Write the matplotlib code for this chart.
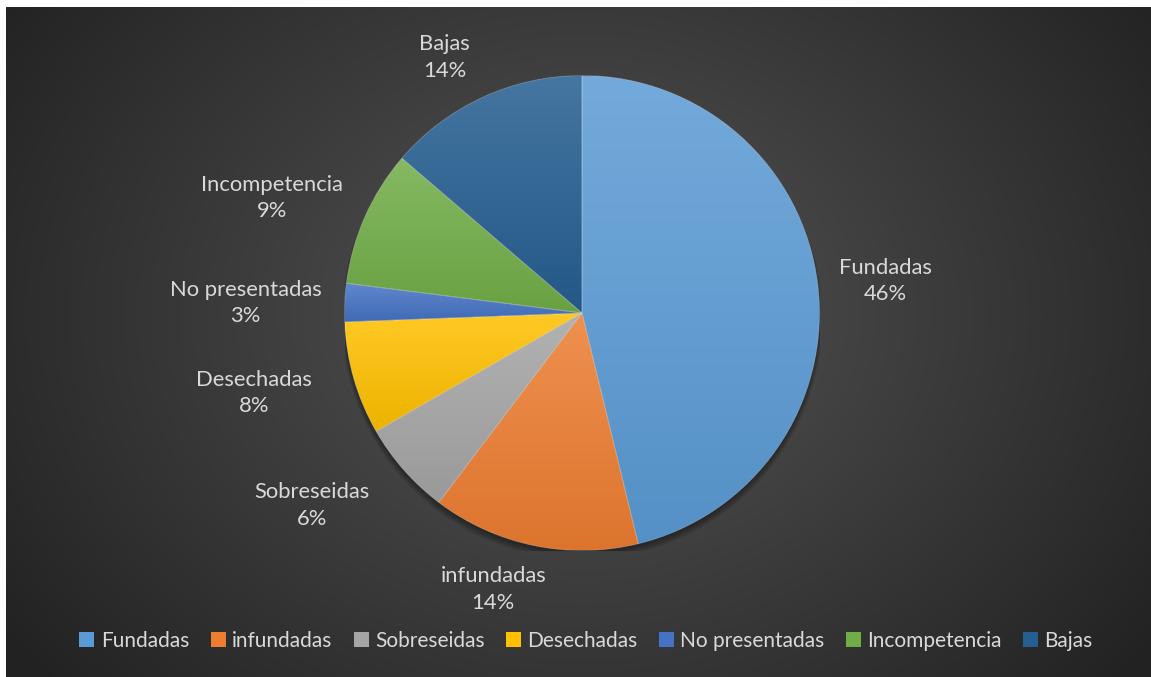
import numpy as np
import matplotlib
matplotlib.use("Agg")
import matplotlib.pyplot as plt
from matplotlib.colors import to_rgb
from matplotlib.patches import Patch, Circle

# ---- data ----
categories = ["Fundadas", "infundadas", "Sobreseidas", "Desechadas",
              "No presentadas", "Incompetencia", "Bajas"]
values = [46.2, 14.1, 6.4, 7.7, 2.6, 9.3, 13.7]
pct_labels = ["46%", "14%", "6%", "8%", "3%", "9%", "14%"]
colors = ["#5B9BD5", "#ED7D31", "#A5A5A5", "#FFC000",
          "#4472C4", "#70AD47", "#255E91"]

# label placement (style): radius factor and angular shift (deg, clockwise)
label_radius = [1.284, 1.223, 1.398, 1.422, 1.417, 1.393, 1.222]
label_shift = [0.8, 6.1, 5.9, 2.3, -0.8, -3.6, -3.6]

plt.rcParams['font.family'] = ['Lato', 'DejaVu Sans']
TEXT = "#D9D9D9"

W, H = 1151, 677
fig = plt.figure(figsize=(W / 100, H / 100), dpi=100, facecolor="white")

# background radial gradient
bg = fig.add_axes([6 / W, 0, (W - 6) / W, (H - 7) / H])
bg.set_axis_off()
ny, nx = 335, 572
yy, xx = np.mgrid[0:ny, 0:nx]
cx, cy = (582 - 6) / (W - 6) * nx, (313 - 7) / (H - 7) * ny
d = np.sqrt(((xx - cx) / (nx * 0.62)) ** 2 + ((yy - cy) / (ny * 0.85)) ** 2)
d = np.clip(d, 0, 1)
inner = np.array(to_rgb("#555555"))
outer = np.array(to_rgb("#222222"))
img = inner[None, None, :] * (1 - d[..., None]) + outer[None, None, :] * d[..., None]
bg.imshow(img, aspect="auto", extent=[0, 1, 0, 1], origin="upper")
bg.set_xlim(0, 1)
bg.set_ylim(0, 1)

# pie axes
R = 237.5
ax = fig.add_axes([(582 - R) / W, (H - 313 - R) / H, 2 * R / W, 2 * R / H])
ax.set_axis_off()
ax.set_xlim(-1, 1)
ax.set_ylim(-1, 1)

# soft shadow
for i, a in enumerate([0.10, 0.10, 0.10, 0.10]):
    ax.add_patch(Circle((0, -0.012 - 0.004 * i), 1.0 + 0.004 * i,
                        color="black", alpha=a, zorder=0.5, lw=0))

wedges, _ = ax.pie(values, colors=colors, startangle=90, counterclock=False,
                   radius=1.0, wedgeprops=dict(linewidth=0.6, edgecolor=(1, 1, 1, 0.25)))

def lighten(c, f):
    c = np.array(to_rgb(c))
    return c + (1 - c) * f

def darken(c, f):
    c = np.array(to_rgb(c))
    return c * (1 - f)

for w, c in zip(wedges, colors):
    ext = w.get_path().get_extents()
    top = lighten(c, 0.15)
    bot = darken(c, 0.07)
    t = np.linspace(0, 1, 256)[:, None, None]
    grad = top[None, None, :] * (1 - t) + bot[None, None, :] * t
    grad = np.repeat(grad, 2, axis=1)
    im = ax.imshow(grad, extent=[ext.x0, ext.x1, ext.y0, ext.y1],
                   origin="upper", aspect="auto", zorder=2.5)
    im.set_clip_path(w)
    w.set_facecolor("none")
    w.set_zorder(3)
ax.set_xlim(-1, 1)
ax.set_ylim(-1, 1)

# data labels
total = sum(values)
cum = 0.0
for v, name, pct, r, s in zip(values, categories, pct_labels, label_radius, label_shift):
    mid = (cum + v / 2) / total * 360.0 + s
    cum += v
    th = np.deg2rad(mid)
    ax.text(r * np.sin(th), r * np.cos(th), f"{name}\n{pct}", ha="center", va="center",
            color=TEXT, fontsize=15.8, linespacing=1.42, clip_on=False, zorder=5)

# legend
handles = [Patch(facecolor=c, edgecolor="none") for c in colors]
fig.legend(handles, categories, loc="center", bbox_to_anchor=(586 / W, (H - 641) / H),
           ncol=7, frameon=False, fontsize=15, labelcolor=TEXT,
           handlelength=0.72, handleheight=0.72, handletextpad=0.3,
           columnspacing=1.03, borderaxespad=0)

fig.savefig("out.png", dpi=100, facecolor=fig.get_facecolor())
